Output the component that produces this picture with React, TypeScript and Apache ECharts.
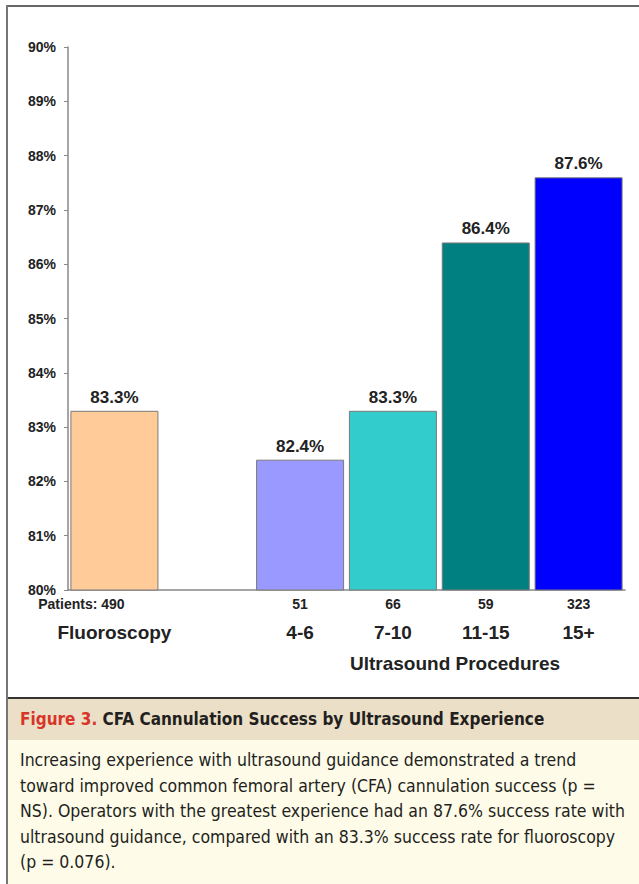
import React, { useEffect, useRef } from "react";
import * as echarts from "echarts";

const categories = ["Fluoroscopy", "", "4-6", "7-10", "11-15", "15+"];
const patients = ["Patients: 490", "", "51", "66", "59", "323"];
const successRates = [83.3, null, 82.4, 83.3, 86.4, 87.6];
const barColors = ["#FFCC99", "#FFFFFF", "#9999FF", "#33CCCC", "#008080", "#0000FF"];
const yMin = 80;
const yMax = 90;
const yInterval = 1;
const groupLabel = "Ultrasound Procedures";
const captionTitleLead = "Figure 3.";
const captionTitle = "CFA Cannulation Success by Ultrasound Experience";
const captionLines = [
  "Increasing experience with ultrasound guidance demonstrated a trend",
  "toward improved common femoral artery (CFA) cannulation success (p =",
  "NS). Operators with the greatest experience had an 87.6% success rate with",
  "ultrasound guidance, compared with an 83.3% success rate for fluoroscopy",
  "(p = 0.076).",
];

const SANS = "'Liberation Sans', Arial, Helvetica, sans-serif";
const NARROW = "'Liberation Sans Narrow', 'DejaVu Sans Condensed', 'Liberation Sans', sans-serif";

export default function App() {
  const ref = useRef<HTMLDivElement>(null);
  useEffect(() => {
    if (!ref.current) return;
    const chart = echarts.init(ref.current, undefined, { renderer: "svg" });
    const option: any = {
      animation: false,
      backgroundColor: "#ffffff",
      grid: { left: 68, right: 14, top: 47, bottom: 294 },
      xAxis: {
        type: "category",
        data: categories,
        axisLine: { show: true, lineStyle: { color: "#888888", width: 1.5 } },
        axisTick: { show: false },
        axisLabel: {
          interval: 0,
          margin: 6,
          formatter: (v: string, i: number) => {
            if (!v) return "";
            const tag = i === 0 ? "p" : "n";
            return `{${tag}|${patients[i]}}\n{c|${v}}`;
          },
          rich: {
            n: { fontFamily: SANS, fontWeight: "bold", fontSize: 14, color: "#222", lineHeight: 16 },
            p: {
              fontFamily: SANS,
              fontWeight: "bold",
              fontSize: 14,
              color: "#222",
              lineHeight: 16,
              padding: [0, 66, 0, 0],
            },
            c: { fontFamily: SANS, fontWeight: "bold", fontSize: 19, color: "#222", lineHeight: 40 },
          },
        },
      },
      yAxis: {
        type: "value",
        min: yMin,
        max: yMax,
        interval: yInterval,
        splitLine: { show: false },
        axisLine: { show: true, lineStyle: { color: "#888888", width: 1.5 } },
        axisTick: { show: true, length: 4, lineStyle: { color: "#888888" } },
        axisLabel: {
          margin: 12,
          formatter: "{value}%",
          fontFamily: SANS,
          fontWeight: "bold",
          fontSize: 14,
          color: "#222",
        },
      },
      series: [
        {
          type: "bar",
          barWidth: 88,
          data: successRates.map((v, i) => ({
            value: v,
            itemStyle: { color: barColors[i], borderColor: "#7a7a7a", borderWidth: 1 },
          })),
          label: {
            show: true,
            position: "top",
            distance: 5,
            formatter: (p: any) => (p.value == null ? "" : `${Number(p.value).toFixed(1)}%`),
            fontFamily: SANS,
            fontWeight: "bold",
            fontSize: 17,
            color: "#222",
          },
        },
      ],
      graphic: [
        { type: "line", shape: { x1: 7, y1: 6, x2: 639, y2: 6 }, style: { stroke: "#666", lineWidth: 2 } },
        { type: "rect", shape: { x: 7, y: 699, width: 632, height: 41 }, style: { fill: "#EBDFC7" } },
        { type: "rect", shape: { x: 7, y: 740, width: 632, height: 144 }, style: { fill: "#FEFBE9" } },
        { type: "line", shape: { x1: 7, y1: 698, x2: 639, y2: 698 }, style: { stroke: "#333", lineWidth: 2 } },
        { type: "line", shape: { x1: 7, y1: 5, x2: 7, y2: 884 }, style: { stroke: "#777", lineWidth: 2 } },
        {
          type: "text",
          x: 455,
          y: 663,
          style: {
            text: groupLabel,
            fontFamily: SANS,
            fontWeight: "bold",
            fontSize: 19,
            fill: "#222",
            textAlign: "center",
            textVerticalAlign: "middle",
          },
        },
        {
          type: "text",
          x: 20,
          y: 719,
          style: {
            text: `{r|${captionTitleLead}} {b|${captionTitle}}`,
            textVerticalAlign: "middle",
            rich: {
              r: { fontFamily: NARROW, fontWeight: "bold", fontSize: 17, fill: "#D8352A", color: "#D8352A" },
              b: { fontFamily: NARROW, fontWeight: "bold", fontSize: 17, fill: "#231F20", color: "#231F20" },
            },
            fontFamily: NARROW,
            fontWeight: "bold",
            fontSize: 17,
          },
        },
        ...captionLines.map((t, i) => ({
          type: "text",
          x: 20,
          y: 760 + i * 25.5,
          style: {
            text: t,
            fontFamily: NARROW,
            fontSize: 17.5,
            fill: "#231F20",
            textVerticalAlign: "middle",
          },
        })),
      ],
    };
    chart.setOption(option);
    return () => chart.dispose();
  }, []);
  return (
    <div
      ref={ref}
      style={{ position: "fixed", left: 0, top: 0, width: 639, height: 884 }}
    />
  );
}
